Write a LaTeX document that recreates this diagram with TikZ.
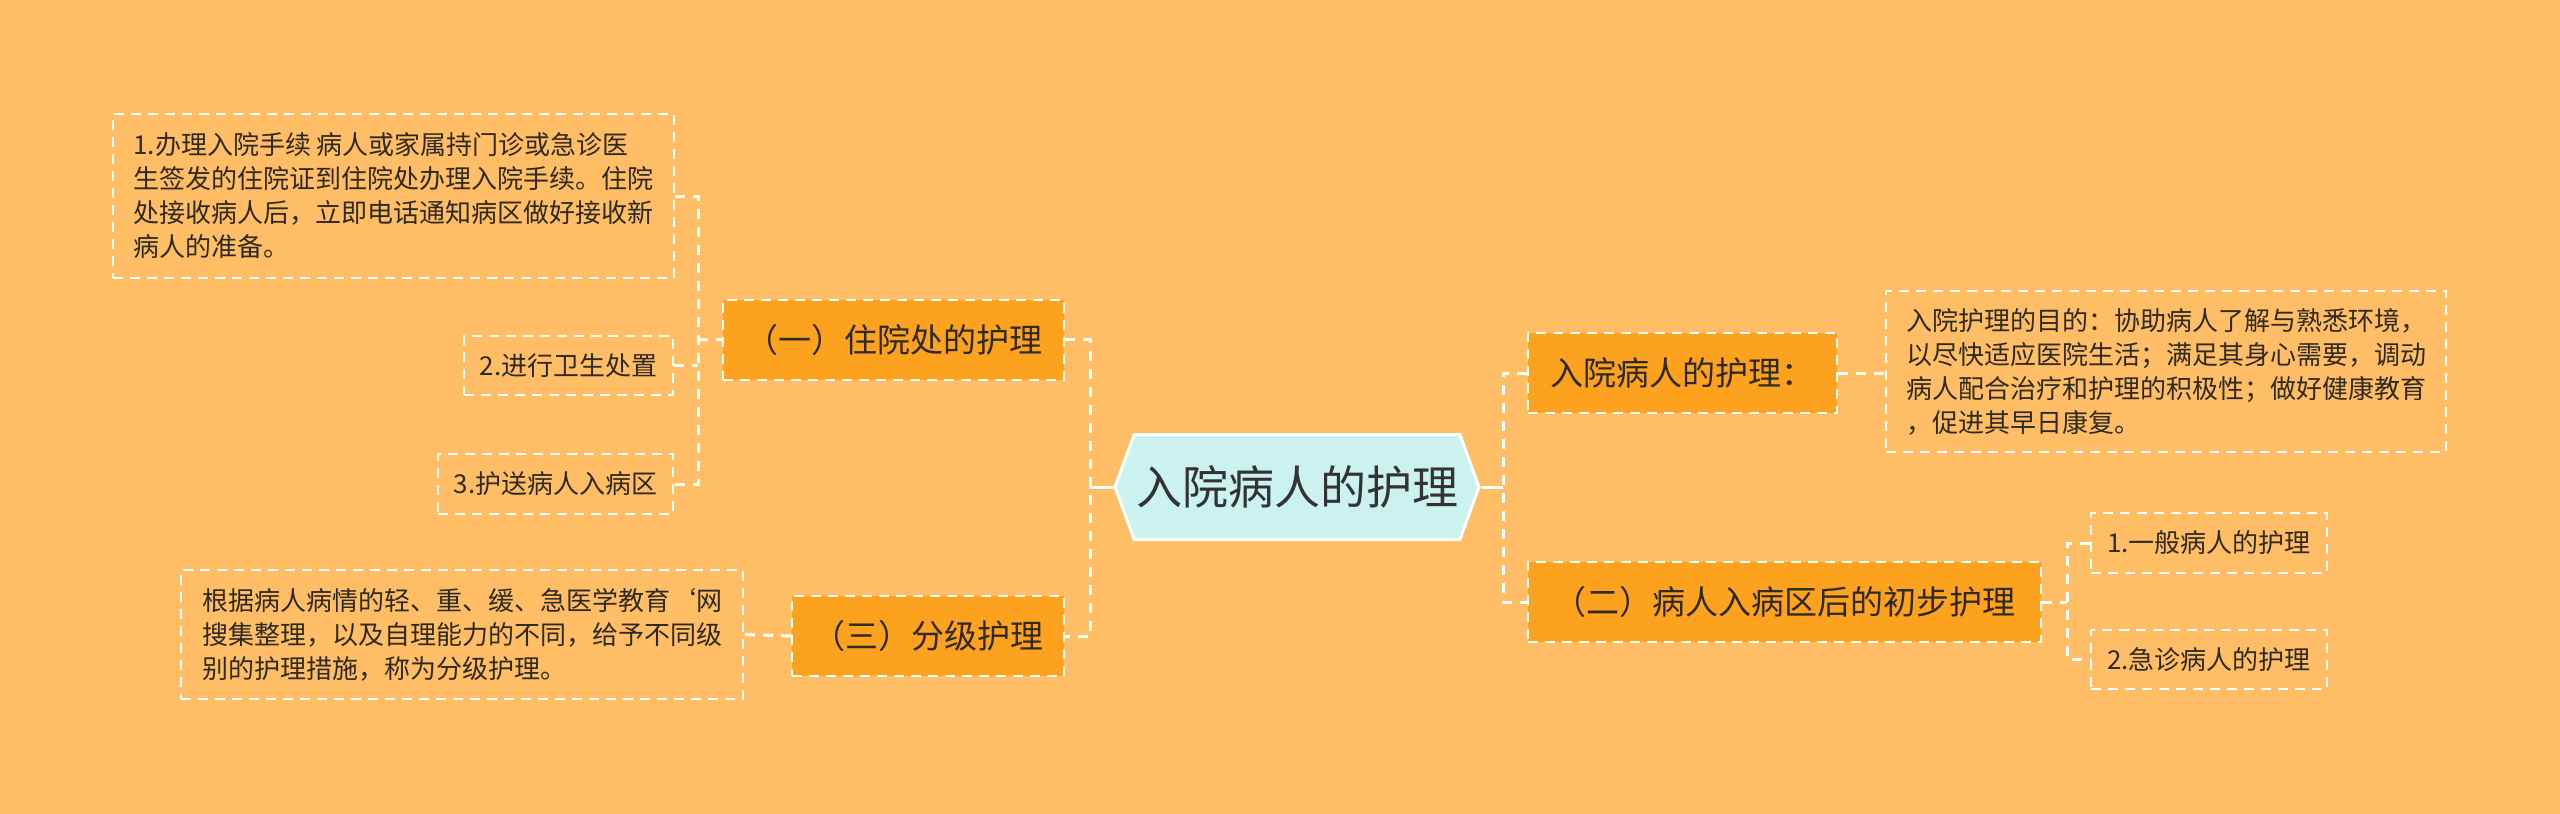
\documentclass[tikz,border=0pt]{standalone}
\usepackage{fontspec}
\setmainfont{Noto Sans CJK SC}
\usepackage{xcolor}
\usepackage{tikz}
\usetikzlibrary{calc}
\usetikzlibrary{shapes.symbols, positioning}

\definecolor{bgorange}{HTML}{FFBE66}
\definecolor{topicorange}{HTML}{FCA21F}
\definecolor{rootcyan}{HTML}{CCF2F0}
\definecolor{rootgray}{HTML}{333333}
\definecolor{leafdark}{HTML}{2F2A20}

\begin{document}
\begin{tikzpicture}[x=1pt,y=-1pt,
                    root node/.style={shape=signal,signal to=west and east,signal pointer angle=140,
                                      fill=rootcyan,draw=white,line width=3pt,inner sep=0pt,
                                      minimum width=364pt,minimum height=105pt,
                                      font=\fontsize{46}{54}\selectfont,text=rootgray},
                    topic node/.style={rectangle,fill=topicorange,draw=white,line width=2pt,
                                       dash pattern=on 10pt off 7pt,inner sep=0pt,minimum height=80pt,
                                       font=\fontsize{33}{40}\selectfont,text=leafdark},
                    leaf node/.style={rectangle,draw=white,line width=2pt,dash pattern=on 10pt off 7pt,
                                      inner sep=0pt,align=left,font=\fontsize{26}{34}\selectfont,text=leafdark},
                    link/.style={draw=white,line width=3pt,dash pattern=on 10pt off 8pt},
                    stem/.style={draw=white,line width=3pt}]

 \useasboundingbox (0,0) rectangle (2560,814);
 \fill[bgorange] (0,0) rectangle (2560,814);

%Central topic
 \node[root node] (root) at (1297,487) {入院病人的护理};

%Left topics
 \node[topic node,minimum width=341pt] (t1) at (893.5,339.5) {（一）住院处的护理};
 \node[topic node,minimum width=272pt] (t3) at (928,636) {（三）分级护理};

%Right topics
 \node[topic node,minimum width=309pt] (t0) at (1682.5,373) {入院病人的护理：};
 \node[topic node,minimum width=513pt] (t2) at (1784.5,602) {（二）病人入病区后的初步护理};

%Left leaves
 \node[leaf node,minimum width=561pt,minimum height=164pt] (l1) at (393.5,196)
   {1.办理入院手续 病人或家属持门诊或急诊医\\生签发的住院证到住院处办理入院手续。住院\\处接收病人后，立即电话通知病区做好接收新\\病人的准备。};
 \node[leaf node,minimum width=209pt,minimum height=59pt] (l2) at (568.5,365.5) {2.进行卫生处置};
 \node[leaf node,minimum width=235pt,minimum height=60pt] (l3) at (555.5,484) {3.护送病人入病区};
 \node[leaf node,minimum width=562pt,minimum height=129pt] (l4) at (462,634.5)
   {根据病人病情的轻、重、缓、急医学教育\symbol{"60}网\\搜集整理，以及自理能力的不同，给予不同级\\别的护理措施，称为分级护理。};

%Right leaves
 \node[leaf node,minimum width=560pt,minimum height=161pt] (l5) at (2166,371.5)
   {入院护理的目的：协助病人了解与熟悉环境，\\以尽快适应医院生活；满足其身心需要，调动\\病人配合治疗和护理的积极性；做好健康教育\\，促进其早日康复。};
 \node[leaf node,minimum width=236pt,minimum height=60pt] (l6) at (2209,543) {1.一般病人的护理};
 \node[leaf node,minimum width=236pt,minimum height=59pt] (l7) at (2209,659.5) {2.急诊病人的护理};

%Joints
 \coordinate (lj) at (1090,487);
 \coordinate (aj) at (698,340);
 \coordinate (rj) at (1503,487);
 \coordinate (bj) at (2067,602);

%Left connectors
 \draw[stem] (root.west) -- (lj);
 \draw[link] (t1.east) -| (lj) |- (t3.east);
 \draw[link] (l1.east) -| (aj) |- (l3.east);
 \draw[link] (l2.east) -- (l2.east -| aj);
 \draw[link] (aj) -- (t1.west);
 \draw[link] (t3.west) -- (l4.east);

%Right connectors
 \draw[stem] (root.east) -- (rj);
 \draw[link] (t0.west) -| (rj) |- (t2.west);
 \draw[link] (t0.east) -- (t0.east -| l5.west);
 \draw[link] (l6.west) -| (bj) |- (l7.west);
 \draw[link] (t2.east) -- (bj);

\end{tikzpicture}
\end{document}
